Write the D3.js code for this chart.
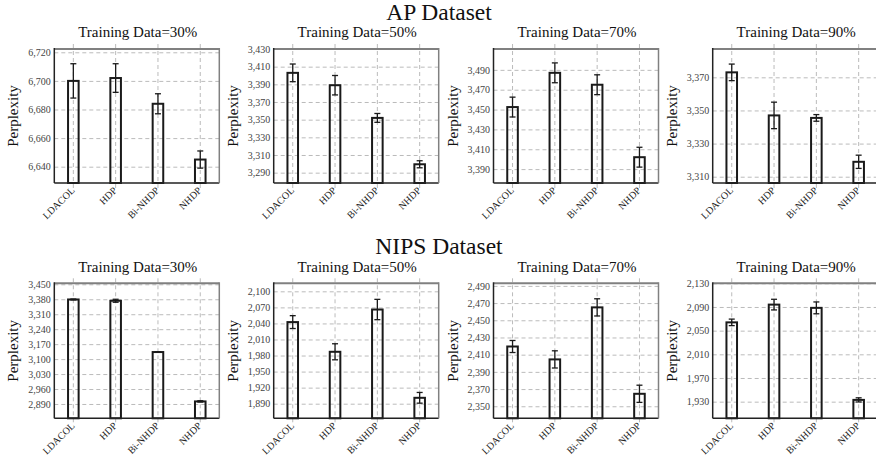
<!DOCTYPE html>
<html>
<head>
<meta charset="utf-8">
<script src="https://cdn.jsdelivr.net/npm/d3@7"></script>
<style>
  body { margin: 0; background: #fff; }
  svg, svg text { font-family: "Liberation Serif", "Times New Roman", "DejaVu Serif", serif !important; }
</style>
</head>
<body>
<svg id="chart"></svg>
<script>
// Data
const categories = ["LDACOL", "HDP", "Bi-NHDP", "NHDP"];
const trainingShares = ["30%", "50%", "70%", "90%"];

const apValues = [
  [6700, 6702, 6684, 6645],
  [3403, 3389, 3352, 3299.5],
  [3452.5, 3487, 3475, 3402],
  [3373, 3347, 3345.5, 3319]
];
const apErrors = [
  [12, 10, 7, 6],
  [10, 11, 5, 4],
  [10, 10, 10, 10],
  [5, 8, 2, 4]
];
const apDomains = [[6628.6, 6722.3], [3278.3, 3430], [3376, 3511], [3306.2, 3387.1]];
const apTicks = [
  [6640, 6660, 6680, 6700, 6720],
  [3290, 3310, 3330, 3350, 3370, 3390, 3410, 3430],
  [3390, 3410, 3430, 3450, 3470, 3490],
  [3310, 3330, 3350, 3370]
];

const nipsValues = [
  [3379, 3373, 3133, 2902],
  [2042.5, 1987, 2066, 1901],
  [2419.5, 2404.5, 2465, 2364.5],
  [2064, 2094, 2088.5, 1933]
];
const nipsErrors = [
  [2, 7, 1, 3],
  [12, 15, 19, 10],
  [7, 10, 10, 10],
  [5.5, 9, 10, 3.5]
];
const nipsDomains = [[2823, 3454.7], [1862.7, 2115], [2336, 2493], [1901.9, 2130]];
const nipsTicks = [
  [2890, 2960, 3030, 3100, 3170, 3240, 3310, 3380, 3450],
  [1890, 1920, 1950, 1980, 2010, 2040, 2070, 2100],
  [2350, 2370, 2390, 2410, 2430, 2450, 2470, 2490],
  [1930, 1970, 2010, 2050, 2090, 2130]
];

const width = 876, height = 459;
const serif = "'Liberation Serif', 'Times New Roman', serif";
const svg = d3.select("#chart").attr("width", width).attr("height", height)
  .attr("font-family", serif);

// Layout
const panelW = 165;
const panelLefts = [54.3, 273.7, 493.5, 712.7];
const rows = [
  { title: "AP Dataset", titleY: 20, subY: 37, top: 49, bottom: 183,
    values: apValues, errors: apErrors, domains: apDomains, ticks: apTicks },
  { title: "NIPS Dataset", titleY: 254, subY: 271.5, top: 283.3, bottom: 418.3,
    values: nipsValues, errors: nipsErrors, domains: nipsDomains, ticks: nipsTicks }
];

const fmt = d3.format(",");

rows.forEach(row => {
  svg.append("text")
    .attr("x", 439).attr("y", row.titleY)
    .attr("text-anchor", "middle")
    .attr("font-family", serif)
    .style("font-size", "23.5px")
    .attr("fill", "#111")
    .text(row.title);

  trainingShares.forEach((share, p) => {
    const left = panelLefts[p];
    const innerH = row.bottom - row.top;
    const g = svg.append("g").attr("transform", `translate(${left},${row.top})`);

    const x = d3.scaleLinear().domain([-0.45, 3.45]).range([0, panelW]);
    const y = d3.scaleLinear().domain(row.domains[p]).range([innerH, 0]);

    // Subtitle
    g.append("text")
      .attr("x", panelW / 2 + 1).attr("y", row.subY - row.top)
      .attr("text-anchor", "middle")
      .attr("font-family", serif)
      .style("font-size", "15px")
      .attr("fill", "#111")
      .text(`Training Data=${share}`);

    // Horizontal grid
    g.append("g")
      .attr("class", "grid")
      .call(d3.axisLeft(y).tickValues(row.ticks[p]).tickSize(-panelW).tickFormat(""))
      .call(s => s.select(".domain").remove())
      .call(s => s.selectAll("line").attr("stroke", "#bbb").attr("stroke-dasharray", "4,3"));

    // Vertical grid (extends past frame as tick marks)
    g.append("g")
      .selectAll("line")
      .data(categories)
      .join("line")
      .attr("x1", (d, i) => x(i)).attr("x2", (d, i) => x(i))
      .attr("y1", -5).attr("y2", innerH + 5)
      .attr("stroke", "#bbb")
      .attr("stroke-dasharray", "4,3");

    // Y tick labels
    g.append("g")
      .call(d3.axisLeft(y).tickValues(row.ticks[p]).tickSize(0).tickPadding(3.5).tickFormat(fmt))
      .attr("font-family", serif)
      .call(s => s.select(".domain").remove())
      .call(s => s.selectAll("text")
        .style("font-size", "10px")
        .attr("fill", "#444"));

    // Bars
    const vals = row.values[p];
    const errs = row.errors[p];
    const bw = x(0.125) - x(0);
    g.append("g")
      .selectAll("rect")
      .data(vals)
      .join("rect")
      .attr("x", (d, i) => x(i) - bw)
      .attr("width", bw * 2)
      .attr("y", d => y(d))
      .attr("height", d => innerH - y(d))
      .attr("fill", "none")
      .attr("stroke", "#1a1a1a")
      .attr("stroke-width", 2);

    // Error bars
    const eg = g.append("g").attr("stroke", "#1a1a1a").attr("stroke-width", 1.3);
    vals.forEach((v, i) => {
      const cx = x(i);
      eg.append("line").attr("x1", cx).attr("x2", cx)
        .attr("y1", y(v + errs[i])).attr("y2", y(v - errs[i]));
      eg.append("line").attr("x1", cx - 3).attr("x2", cx + 3)
        .attr("y1", y(v + errs[i])).attr("y2", y(v + errs[i]));
      eg.append("line").attr("x1", cx - 3).attr("x2", cx + 3)
        .attr("y1", y(v - errs[i])).attr("y2", y(v - errs[i]));
    });

    // Frame
    g.append("line").attr("x1", 0).attr("x2", panelW).attr("y1", 0).attr("y2", 0)
      .attr("stroke", "#808080").attr("stroke-width", 2);
    g.append("line").attr("x1", 0).attr("x2", 0).attr("y1", -1).attr("y2", innerH)
      .attr("stroke", "#222").attr("stroke-width", 1.5);
    g.append("line").attr("x1", 0).attr("x2", panelW).attr("y1", innerH).attr("y2", innerH)
      .attr("stroke", "#222").attr("stroke-width", 1.5);
    g.append("line").attr("x1", panelW).attr("x2", panelW).attr("y1", -1).attr("y2", innerH)
      .attr("stroke", "#808080").attr("stroke-width", 1.5);

    // X tick labels
    g.append("g")
      .selectAll("text")
      .data(categories)
      .join("text")
      .attr("transform", (d, i) => `translate(${x(i) + 2},${innerH + 8}) rotate(-45)`)
      .attr("text-anchor", "end")
      .attr("font-family", serif)
      .style("font-size", "10px")
      .attr("fill", "#222")
      .text(d => d);

    // Y label
    g.append("text")
      .attr("transform", `translate(-36,${innerH / 2}) rotate(-90)`)
      .attr("text-anchor", "middle")
      .attr("font-family", serif)
      .style("font-size", "15px")
      .attr("fill", "#111")
      .text("Perplexity");
  });
});
</script>
</body>
</html>
